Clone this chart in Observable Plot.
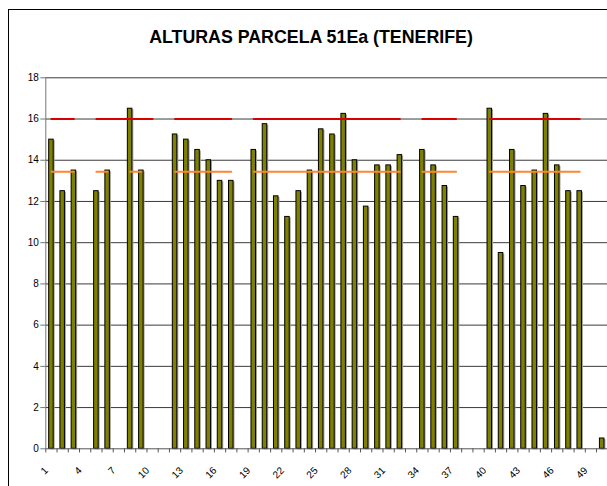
<!DOCTYPE html>
<html><head><meta charset="utf-8">
<script src="https://cdn.jsdelivr.net/npm/d3@7"></script>
<script src="https://cdn.jsdelivr.net/npm/@observablehq/plot@0.6"></script>
<style>
html,body{margin:0;padding:0;background:#fff;overflow:hidden;width:607px;height:486px}
#frame{position:absolute;left:8px;top:9px;width:700px;height:600px;border-left:1px solid #000;border-top:1px solid #000;}
#title{position:absolute;left:0;top:27px;width:622px;text-align:center;font:bold 17.8px "Liberation Sans",Arial,sans-serif;color:#000}
#chart{position:absolute;left:0;top:60px;width:640px;}
#chart svg{max-width:none !important;}
</style></head>
<body><div id="frame"></div><div id="title">ALTURAS PARCELA 51Ea (TENERIFE)</div><div id="chart"></div>
<script>
const categories = [1,2,3,4,5,6,7,8,9,10,11,12,13,14,15,16,17,18,19,20,21,22,23,24,25,26,27,28,29,30,31,32,33,34,35,36,37,38,39,40,41,42,43,44,45,46,47,48,49,50];
const alturas = [15,12.5,13.5,null,12.5,13.5,null,16.5,13.5,null,null,15.25,15,14.5,14,13,13,null,14.5,15.75,12.25,11.25,12.5,13.5,15.5,15.25,16.25,14,11.75,13.75,13.75,14.25,null,14.5,13.75,12.75,11.25,null,null,16.5,9.5,14.5,12.75,13.5,16.25,13.75,12.5,12.5,null,0.5];
const lineaRoja = [16,16,16,null,16,16,16,16,16,16,null,16,16,16,16,16,16,null,16,16,16,16,16,16,16,16,16,16,16,16,16,16,null,16,16,16,16,null,null,16,16,16,16,16,16,16,16,16,null,null];
const lineaNaranja = [13.44,13.44,13.44,null,13.44,13.44,null,13.44,13.44,null,null,13.44,13.44,13.44,13.44,13.44,13.44,null,13.44,13.44,13.44,13.44,13.44,13.44,13.44,13.44,13.44,13.44,13.44,13.44,13.44,13.44,null,13.44,13.44,13.44,13.44,null,null,13.44,13.44,13.44,13.44,13.44,13.44,13.44,13.44,13.44,null,null];
const yTicks = [0,2,4,6,8,10,12,14,16,18];
const gridTicks = [2,4,6,8,10,12,14,16,18];
const xTickLabels = [1,4,7,10,13,16,19,22,25,28,31,34,37,40,43,46,49];

const data = categories.map((c, i) => ({c, h: alturas[i], roja: lineaRoja[i], naranja: lineaNaranja[i]}));
const bars = data.filter(d => d.h != null);

const W = 620, H = 430, mL = 45.3, mR = 12.7, mT = 17.3, mB = 41.7;
const step = (W - mL - mR) / categories.length;

const chart = Plot.plot({
  width: W, height: H,
  marginLeft: mL, marginRight: mR, marginTop: mT, marginBottom: mB,
  style: {fontFamily: '"Liberation Sans", Arial, sans-serif', fontSize: "10px", color: "#000", background: "transparent", overflow: "visible", maxWidth: "none"},
  x: {type: "band", domain: categories, paddingInner: 0.6, paddingOuter: 0.3, round: false, axis: null},
  y: {domain: [0, 18], axis: null},
  marks: [
    Plot.ruleY(gridTicks, {stroke: "#3a3a3a", strokeWidth: 1}),
    Plot.barY(bars, {x: "c", y: "h", fill: "#a0a0a0", dx: 1.5, dy: 1}),
    Plot.barY(bars, {x: "c", y: "h", fill: "#808000", stroke: "#000", strokeWidth: 1}),
    Plot.lineY(data, {x: "c", y: "naranja", stroke: "#ff8533", strokeWidth: 2}),
    Plot.lineY(data, {x: "c", y: "roja", stroke: "#d80000", strokeWidth: 2}),
    Plot.ruleX([categories[0]], {x: d => d, y1: 0, y2: 18, dx: -step / 2, stroke: "#777"}),
    Plot.ruleY([0], {stroke: "#555"}),
    Plot.ruleX(categories, {x: d => d, y1: 0, y2: -0.2, dx: -step / 2, stroke: "#555"}),
    Plot.axisY({ticks: yTicks, tickSize: 5, tickPadding: 2, fontSize: 10, stroke: "#777", label: null}),
    Plot.text(xTickLabels, {x: d => d, y: 0, text: d => String(d), rotate: -45, textAnchor: "end", dx: -5, dy: 20, fontSize: 10, fill: "#000"})
  ]
});
document.getElementById("chart").appendChild(chart);
</script></body></html>
